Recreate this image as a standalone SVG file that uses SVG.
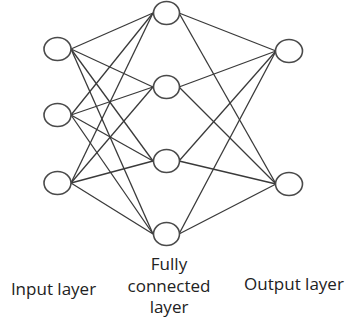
<svg xmlns="http://www.w3.org/2000/svg" width="346" height="326" viewBox="0 0 346 326">
<style>
.n{fill:#fff;stroke:#4a4a4a;stroke-width:1.6}
.c line{stroke:#3a3a3a;stroke-width:1.3}
.t{font-family:"Open Sans","Liberation Sans",sans-serif;font-size:17px;fill:#222;text-anchor:middle}
</style>
<rect width="346" height="326" fill="#fff"/>
<g id="connectors" class="c">
<line x1="71" y1="49" x2="153" y2="13"/>
<line x1="71" y1="49" x2="153" y2="87"/>
<line x1="71" y1="49" x2="153" y2="161"/>
<line x1="71" y1="49" x2="153" y2="234"/>
<line x1="71" y1="115" x2="153" y2="13"/>
<line x1="71" y1="115" x2="153" y2="87"/>
<line x1="71" y1="115" x2="153" y2="161"/>
<line x1="71" y1="115" x2="153" y2="234"/>
<line x1="71" y1="183" x2="153" y2="13"/>
<line x1="71" y1="183" x2="153" y2="87"/>
<line x1="71" y1="183" x2="153" y2="161"/>
<line x1="71" y1="183" x2="153" y2="234"/>
<line x1="179" y1="13" x2="276" y2="51"/>
<line x1="179" y1="13" x2="276" y2="184"/>
<line x1="179" y1="87" x2="276" y2="51"/>
<line x1="179" y1="87" x2="276" y2="184"/>
<line x1="179" y1="161" x2="276" y2="51"/>
<line x1="179" y1="161" x2="276" y2="184"/>
<line x1="179" y1="234" x2="276" y2="51"/>
<line x1="179" y1="234" x2="276" y2="184"/>
</g>
<g id="in1"><ellipse class="n" cx="57.5" cy="49" rx="13.5" ry="11.5"/></g>
<g id="in2"><ellipse class="n" cx="57.5" cy="115" rx="13.5" ry="11.5"/></g>
<g id="in3"><ellipse class="n" cx="57.5" cy="183" rx="13.5" ry="11.5"/></g>
<g id="h1"><ellipse class="n" cx="166.5" cy="13" rx="13" ry="11.5"/></g>
<g id="h2"><ellipse class="n" cx="166.5" cy="87" rx="13" ry="11.5"/></g>
<g id="h3"><ellipse class="n" cx="166.5" cy="161" rx="13" ry="11.5"/></g>
<g id="h4"><ellipse class="n" cx="166.5" cy="234" rx="13" ry="11.5"/></g>
<g id="out1"><ellipse class="n" cx="289" cy="51" rx="13.5" ry="11.5"/></g>
<g id="out2"><ellipse class="n" cx="289" cy="184" rx="13.5" ry="11.5"/></g>
<g id="labels">
<text class="t" x="53.5" y="295">Input layer</text>
<text class="t" x="169" y="270">Fully</text>
<text class="t" x="169" y="292">connected</text>
<text class="t" x="169" y="313">layer</text>
<text class="t" x="294" y="290">Output layer</text>
</g>
</svg>
